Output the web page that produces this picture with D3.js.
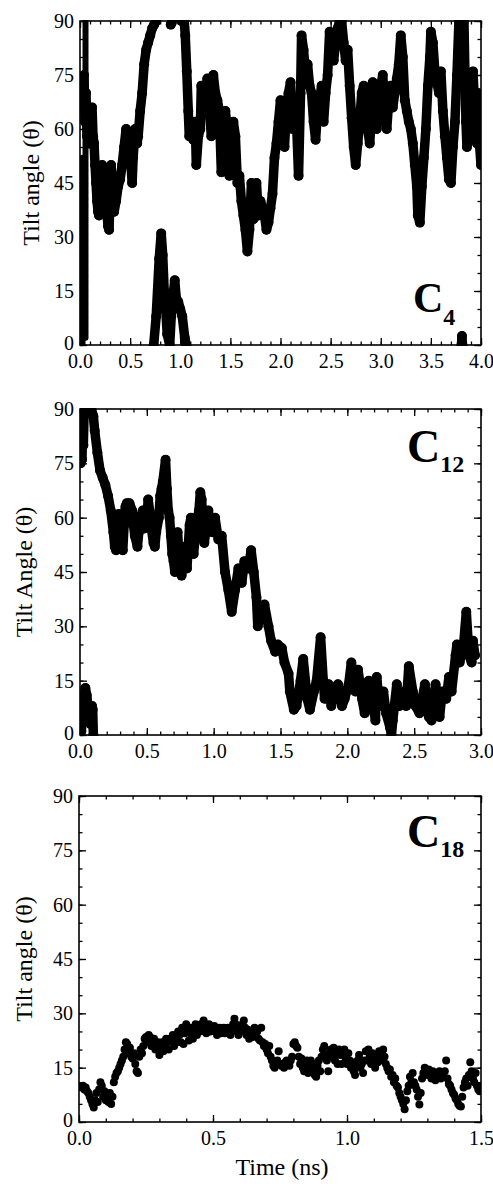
<!DOCTYPE html>
<html>
<head>
<meta charset="utf-8">
<script src="https://cdn.jsdelivr.net/npm/d3@7/dist/d3.min.js"></script>
<style>
  html, body { margin: 0; padding: 0; background: #fff; }
  svg { display: block; }
  text { font-family: "Liberation Serif", "Times New Roman", serif; fill: #000; }
</style>
</head>
<body>
<svg id="chart" width="493" height="1188"></svg>
<script>
// ---------- tick labels ----------
const yTicks = [0, 15, 30, 45, 60, 75, 90];
const c4XTicks = [0, 0.5, 1.0, 1.5, 2.0, 2.5, 3.0, 3.5, 4.0];
const c12XTicks = [0, 0.5, 1.0, 1.5, 2.0, 2.5, 3.0];
const c18XTicks = [0, 0.5, 1.0, 1.5];

// ---------- C4 series: [time (ns), tilt angle] ----------
const c4ColumnA = [[0.025, 52], [0.025, 0]];
const c4ColumnB = [[0.055, 90], [0.055, 2]];
const c4Main1 = [[0.04,75],[0.05,62],[0.06,70],[0.07,58],[0.08,66],[0.09,56],[0.10,64],[0.11,60],[0.12,66],[0.13,58],[0.14,56],[0.15,50],[0.16,45],[0.17,40],[0.18,37],[0.19,36],[0.20,38],[0.21,44],[0.22,50],[0.23,48],[0.24,42],[0.25,38],[0.26,45],[0.27,36],[0.28,33],[0.29,32],[0.30,42],[0.31,50],[0.32,46],[0.33,42],[0.34,37],[0.36,40],[0.38,44],[0.40,46],[0.42,50],[0.44,55],[0.46,60],[0.47,56],[0.48,52],[0.50,54],[0.52,45],[0.53,52],[0.55,60],[0.57,56],[0.58,58],[0.60,65],[0.62,70],[0.64,78],[0.66,82],[0.68,84],[0.70,86],[0.72,88],[0.74,89],[0.76,90]];
const c4Dot = [[0.905, 89], [0.915, 89.5]];
const c4Main2 = [[1.01,90],[1.04,90],[1.05,86],[1.065,76],[1.08,65],[1.09,58],[1.11,62],[1.13,57],[1.15,62],[1.16,50],[1.18,58],[1.20,60],[1.21,72],[1.23,66],[1.25,70],[1.27,74],[1.29,66],[1.31,58],[1.33,75],[1.35,70],[1.37,68],[1.39,65],[1.41,48],[1.43,62],[1.45,65],[1.47,60],[1.49,47],[1.51,60],[1.53,62],[1.55,58],[1.57,45],[1.59,47],[1.61,40],[1.63,36],[1.65,32],[1.67,26],[1.69,32],[1.71,45],[1.73,35],[1.75,42],[1.76,45],[1.78,36],[1.80,40],[1.82,38],[1.84,36],[1.86,32],[1.88,34],[1.90,38],[1.92,42],[1.94,52],[1.96,56],[1.98,62],[2.00,68],[2.02,62],[2.04,55],[2.06,66],[2.08,70],[2.10,73],[2.12,60],[2.14,65],[2.16,62],[2.18,47],[2.20,70],[2.21,86],[2.23,82],[2.25,75],[2.27,78],[2.29,72],[2.31,70],[2.33,62],[2.35,57],[2.37,65],[2.39,68],[2.41,72],[2.43,62],[2.45,70],[2.47,75],[2.49,87],[2.51,84],[2.53,79],[2.55,84],[2.57,88],[2.59,90],[2.61,90],[2.63,84],[2.65,79],[2.67,82],[2.69,72],[2.71,63],[2.73,55],[2.75,50],[2.77,56],[2.79,62],[2.81,70],[2.83,72],[2.85,66],[2.87,60],[2.89,56],[2.91,65],[2.92,73],[2.94,66],[2.96,60],[2.98,68],[3.00,72],[3.02,75],[3.04,66],[3.06,60],[3.08,68],[3.10,72],[3.12,66],[3.14,70],[3.16,74],[3.18,78],[3.20,86],[3.22,80],[3.24,68],[3.26,65],[3.28,62],[3.30,60],[3.32,56],[3.34,50],[3.36,44],[3.37,36],[3.39,34],[3.41,44],[3.43,52],[3.45,60],[3.47,72],[3.49,80],[3.50,87],[3.52,84],[3.54,76],[3.56,73],[3.58,70],[3.60,76],[3.62,65],[3.64,58],[3.66,52],[3.68,46],[3.70,45],[3.72,55],[3.74,62],[3.76,75],[3.78,90]];
const c4Main3 = [[3.83,90],[3.84,75],[3.85,62],[3.86,55],[3.87,58],[3.89,65],[3.91,72],[3.92,76],[3.93,70],[3.94,60],[3.96,56],[3.97,70],[3.98,58],[4.0,50]];
const c4Low1 = [[0.735,0],[0.76,8],[0.79,24],[0.81,31],[0.825,25],[0.84,15],[0.855,10],[0.87,3],[0.895,0],[0.91,8],[0.93,14],[0.945,18],[0.96,13],[0.98,12],[1.0,10],[1.02,8],[1.045,2],[1.06,0]];
const c4Low2 = [[3.805,0],[3.81,2.5],[3.815,0]];

// ---------- C12 series ----------
const c12Top = [[0.005,75],[0.01,82],[0.015,76],[0.02,86],[0.025,80],[0.03,88],[0.04,90],[0.05,90]];
const c12Low = [[0.01,1],[0.02,6],[0.03,11],[0.04,13],[0.05,11],[0.06,8],[0.07,5],[0.08,3],[0.09,8],[0.095,7],[0.10,0]];
const c12Main = [[0.085,90],[0.10,88],[0.11,84],[0.13,78],[0.15,73],[0.17,71],[0.19,69],[0.21,66],[0.23,62],[0.25,56],[0.26,52],[0.27,51],[0.28,58],[0.29,61],[0.30,56],[0.31,52],[0.32,51],[0.33,58],[0.34,63],[0.35,64],[0.37,64],[0.39,62],[0.40,58],[0.41,55],[0.43,52],[0.44,56],[0.45,60],[0.47,62],[0.48,57],[0.50,60],[0.51,65],[0.52,62],[0.53,58],[0.55,53],[0.56,52],[0.57,56],[0.59,60],[0.60,66],[0.61,68],[0.62,70],[0.64,76],[0.65,68],[0.66,62],[0.67,60],[0.68,55],[0.69,50],[0.70,48],[0.71,45],[0.72,54],[0.73,56],[0.74,50],[0.75,45],[0.76,44],[0.77,48],[0.78,52],[0.79,48],[0.80,46],[0.81,52],[0.82,58],[0.83,60],[0.84,54],[0.85,50],[0.86,54],[0.87,58],[0.89,62],[0.90,67],[0.91,65],[0.92,58],[0.93,53],[0.94,56],[0.96,62],[0.97,58],[0.99,56],[1.01,60],[1.035,54],[1.06,55],[1.085,45],[1.11,40],[1.135,34],[1.16,40],[1.185,46],[1.21,42],[1.23,48],[1.26,46],[1.28,51],[1.30,45],[1.32,38],[1.33,30],[1.36,35],[1.38,36],[1.41,30],[1.43,26],[1.46,23],[1.48,25],[1.51,24],[1.53,20],[1.56,17],[1.57,12],[1.60,7],[1.62,8],[1.65,15],[1.67,21],[1.70,10],[1.72,7],[1.75,12],[1.77,15],[1.80,27],[1.82,15],[1.83,10],[1.86,14],[1.88,8],[1.91,13],[1.93,14],[1.96,8],[1.98,10],[2.01,14],[2.03,20],[2.06,12],[2.08,18],[2.11,10],[2.13,6],[2.16,15],[2.18,12],[2.21,4],[2.22,16],[2.24,8],[2.27,12],[2.29,6],[2.32,2],[2.33,0],[2.34,4],[2.37,14],[2.39,8],[2.42,12],[2.44,8],[2.46,19],[2.49,12],[2.51,8],[2.54,6],[2.56,10],[2.58,14],[2.61,5],[2.63,4],[2.66,14],[2.68,8],[2.69,5],[2.71,12],[2.74,10],[2.76,16],[2.78,12],[2.81,22],[2.82,25],[2.84,20],[2.87,25],[2.89,34],[2.91,22],[2.93,20],[2.94,26],[2.955,22]];

// ---------- C18 series ----------
const c18Points = [[0.00,10],[0.01,9.5],[0.015,10],[0.02,9],[0.025,9.5],[0.03,8.5],[0.035,8],[0.04,7],[0.045,6],[0.05,5],[0.055,4],[0.06,6],[0.065,8],[0.07,5.5],[0.075,9],[0.08,11],[0.085,10],[0.09,7],[0.095,8.5],[0.10,6],[0.105,7],[0.11,5.5],[0.115,8],[0.12,5],[0.125,7],[0.13,11],[0.135,12.5],[0.14,13.5],[0.145,14],[0.15,15],[0.155,16],[0.16,17],[0.165,18],[0.17,20],[0.175,22],[0.18,21.5],[0.185,19],[0.19,20.5],[0.195,18],[0.20,17.5],[0.205,19],[0.21,16],[0.215,14],[0.22,13.5],[0.225,18],[0.23,20],[0.235,19],[0.24,21],[0.245,23],[0.25,23.5],[0.255,22],[0.26,24],[0.265,23.5],[0.27,21],[0.275,22],[0.28,23],[0.285,20],[0.29,21.5],[0.295,22],[0.30,18.5],[0.305,20],[0.31,22],[0.315,19.5],[0.32,21],[0.325,23],[0.33,22],[0.335,20],[0.34,23],[0.345,22.5],[0.35,24],[0.355,21],[0.36,23.5],[0.365,22],[0.37,25],[0.375,24],[0.38,22],[0.385,26],[0.39,21.5],[0.395,24.5],[0.40,27],[0.405,25],[0.41,22.5],[0.415,26],[0.42,24],[0.425,23],[0.43,25.5],[0.435,27],[0.44,24],[0.445,26],[0.45,25],[0.455,27],[0.46,26],[0.465,28],[0.47,25],[0.475,24.5],[0.48,26.5],[0.485,27],[0.49,25],[0.495,26],[0.50,25.5],[0.505,26.5],[0.51,25],[0.515,24],[0.52,25.5],[0.525,26],[0.53,24.5],[0.535,25],[0.54,26],[0.545,24.5],[0.55,25],[0.555,26],[0.56,25],[0.565,24],[0.57,26],[0.575,27],[0.58,28.5],[0.585,27],[0.59,25],[0.595,24],[0.60,26],[0.605,25],[0.61,27],[0.615,28],[0.62,26],[0.625,24],[0.63,25.5],[0.635,23],[0.64,25],[0.645,24.5],[0.65,23.5],[0.655,26],[0.66,24],[0.665,25],[0.67,23],[0.675,22.5],[0.68,26],[0.685,22],[0.69,21],[0.695,21.5],[0.70,20],[0.705,19],[0.71,21],[0.715,18],[0.72,17],[0.725,15.5],[0.73,15],[0.735,16],[0.74,17],[0.745,19.5],[0.75,16],[0.755,15.5],[0.76,16],[0.765,15],[0.77,16.5],[0.775,17],[0.78,16],[0.785,15.5],[0.79,17],[0.795,18],[0.80,21.5],[0.805,22],[0.81,21],[0.815,20.5],[0.82,18],[0.825,16],[0.83,17.5],[0.835,15],[0.84,14],[0.845,16.5],[0.85,17],[0.855,13.5],[0.86,15],[0.865,17],[0.87,16],[0.875,14],[0.88,13],[0.885,12.5],[0.89,15.5],[0.895,17],[0.90,14],[0.905,18],[0.91,20],[0.915,21],[0.92,18.5],[0.925,17],[0.93,14],[0.935,19],[0.94,20],[0.945,18],[0.95,20.5],[0.955,17],[0.96,19],[0.965,16],[0.97,20],[0.975,18.5],[0.98,16],[0.985,19],[0.99,20],[0.995,17.5],[1.00,16],[1.005,19],[1.01,17],[1.015,15],[1.02,16.5],[1.025,14],[1.03,13],[1.035,15],[1.04,17],[1.045,18.5],[1.05,15],[1.055,16],[1.06,13.5],[1.065,17],[1.07,19.5],[1.075,17],[1.08,20],[1.085,18],[1.09,16],[1.095,19],[1.10,17.5],[1.105,15],[1.11,18],[1.115,16.5],[1.12,19.5],[1.125,17],[1.13,19],[1.135,20],[1.14,18],[1.145,16],[1.15,15],[1.155,14],[1.16,14.5],[1.165,12.5],[1.17,13],[1.175,11],[1.18,12],[1.185,10],[1.19,9.5],[1.195,8],[1.20,7],[1.205,6],[1.21,5],[1.215,3.5],[1.22,6],[1.225,8.5],[1.23,10],[1.235,12.5],[1.24,11],[1.245,13.5],[1.25,11],[1.255,10],[1.26,9],[1.265,7],[1.27,4.8],[1.275,8],[1.28,12],[1.285,13.5],[1.29,15],[1.295,14],[1.30,13],[1.305,14.5],[1.31,13],[1.315,12],[1.32,14],[1.325,13],[1.33,11.5],[1.335,12.5],[1.34,13.5],[1.345,14],[1.35,12],[1.355,13],[1.36,12.5],[1.365,14],[1.37,17],[1.375,12],[1.38,10.5],[1.385,10],[1.39,9],[1.395,8],[1.40,7.5],[1.405,6.5],[1.41,6],[1.415,5],[1.42,4.5],[1.425,4.3],[1.43,7],[1.435,9.5],[1.44,11],[1.445,12],[1.45,10],[1.455,13],[1.46,16.5],[1.465,14],[1.47,12],[1.475,11],[1.48,13.5],[1.485,10],[1.49,9],[1.495,8.5],[1.50,10]];

// ---------- panels ----------
const panels = [
  { x0: 80, x1: 481, y0: 21, y1: 345, xMax: 4, xTicks: c4XTicks,
    segments: [c4Main1, c4Dot, c4Main2, c4Main3, c4Low1, c4Low2], columns: [c4ColumnA, c4ColumnB], dots: [],
    ylabel: "Tilt angle (\u03B8)", ylabelX: 31,
    tag: { c: "C", sub: "4", x: 413, y: 312, size: 42, subSize: 24, subDy: 13 } },
  { x0: 80, x1: 481, y0: 409, y1: 735, xMax: 3, xTicks: c12XTicks,
    segments: [c12Top, c12Low, c12Main], columns: [], dots: [],
    ylabel: "Tilt Angle (\u03B8)", ylabelX: 24,
    tag: { c: "C", sub: "12", x: 407, y: 462, size: 46, subSize: 24, subDy: 10 } },
  { x0: 79, x1: 481, y0: 796, y1: 1122, xMax: 1.5, xTicks: c18XTicks,
    segments: [], columns: [], dots: c18Points,
    ylabel: "Tilt angle (\u03B8)", ylabelX: 24,
    tag: { c: "C", sub: "18", x: 407, y: 847, size: 46, subSize: 24, subDy: 10 } }
];

const svg = d3.select("#chart");

panels.forEach(p => {
  const x = d3.scaleLinear().domain([0, p.xMax]).range([p.x0, p.x1]);
  const y = d3.scaleLinear().domain([0, 90]).range([p.y1, p.y0]);
  const g = svg.append("g");

  const clipId = "clip" + p.y0;
  svg.append("clipPath").attr("id", clipId).append("rect")
    .attr("x", p.x0).attr("y", p.y0 - 1).attr("width", p.x1 - p.x0).attr("height", p.y1 - p.y0 + 2);

  const data = g.append("g").attr("clip-path", `url(#${clipId})`);
  const line = d3.line().x(d => x(d[0])).y(d => y(d[1]));
  p.segments.forEach(seg => {
    data.append("path").attr("d", line(seg))
      .attr("fill", "none").attr("stroke", "#000").attr("stroke-width", 9.5)
      .attr("stroke-linejoin", "round").attr("stroke-linecap", "round");
    data.selectAll(null).data(seg).enter().append("circle")
      .attr("cx", d => x(d[0])).attr("cy", d => y(d[1])).attr("r", 5).attr("fill", "#000");
  });
  p.columns.forEach(seg => {
    data.append("path").attr("d", line(seg))
      .attr("fill", "none").attr("stroke", "#000").attr("stroke-width", 6)
      .attr("stroke-linecap", "round").attr("stroke-dasharray", "6,1");
  });
  data.selectAll(null).data(p.dots).enter().append("circle")
    .attr("cx", d => x(d[0])).attr("cy", d => y(d[1])).attr("r", 4).attr("fill", "#000");

  const minorX = d3.range(0, p.xMax + 1e-9, 0.1).map(v => +v.toFixed(2));
  const minorY = d3.range(0, 91, 5);

  function axisStyle(sel) {
    sel.select(".domain").remove();
    sel.selectAll(".tick line").attr("stroke", "#000").attr("stroke-width", 1.3);
  }

  // minor ticks (all four sides)
  g.append("g").attr("transform", `translate(0,${p.y1})`)
    .call(d3.axisBottom(x).tickValues(minorX).tickSize(-3.5).tickFormat("")).call(axisStyle);
  g.append("g").attr("transform", `translate(0,${p.y0})`)
    .call(d3.axisTop(x).tickValues(minorX).tickSize(-3.5).tickFormat("")).call(axisStyle);
  g.append("g").attr("transform", `translate(${p.x0},0)`)
    .call(d3.axisLeft(y).tickValues(minorY).tickSize(-3.5).tickFormat("")).call(axisStyle);
  g.append("g").attr("transform", `translate(${p.x1},0)`)
    .call(d3.axisRight(y).tickValues(minorY).tickSize(-3.5).tickFormat("")).call(axisStyle);

  // major ticks
  const bx = g.append("g").attr("transform", `translate(0,${p.y1})`)
    .call(d3.axisBottom(x).tickValues(p.xTicks).tickSize(-7).tickPadding(9).tickFormat(d3.format(".1f")))
    .call(axisStyle);
  bx.selectAll(".tick text").attr("font-size", 20).attr("font-family", "Liberation Serif, serif");
  g.append("g").attr("transform", `translate(0,${p.y0})`)
    .call(d3.axisTop(x).tickValues(p.xTicks).tickSize(-7).tickFormat("")).call(axisStyle);
  const ly = g.append("g").attr("transform", `translate(${p.x0},0)`)
    .call(d3.axisLeft(y).tickValues(yTicks).tickSize(-7).tickPadding(6))
    .call(axisStyle);
  ly.selectAll(".tick text").attr("font-size", 20).attr("font-family", "Liberation Serif, serif");
  ly.selectAll(".tick").filter(d => d === 0).select("text").attr("dy", "0.2em");
  g.append("g").attr("transform", `translate(${p.x1},0)`)
    .call(d3.axisRight(y).tickValues(yTicks).tickSize(-7).tickFormat("")).call(axisStyle);

  // frame
  g.append("rect").attr("x", p.x0).attr("y", p.y0)
    .attr("width", p.x1 - p.x0).attr("height", p.y1 - p.y0)
    .attr("fill", "none").attr("stroke", "#000").attr("stroke-width", 1.6);

  // y label
  g.append("text")
    .attr("transform", `translate(${p.ylabelX},${(p.y0 + p.y1) / 2}) rotate(-90)`)
    .attr("text-anchor", "middle").attr("dy", "0.35em")
    .attr("font-size", 24).text(p.ylabel);

  // panel tag
  const t = g.append("text").attr("x", p.tag.x).attr("y", p.tag.y)
    .attr("font-weight", "bold").attr("font-size", p.tag.size);
  t.append("tspan").text(p.tag.c);
  t.append("tspan").attr("font-size", p.tag.subSize).attr("dy", p.tag.subDy).text(p.tag.sub);
});

svg.append("text").attr("x", 282).attr("y", 1175).attr("text-anchor", "middle")
  .attr("font-size", 24).text("Time (ns)");
</script>
</body>
</html>
